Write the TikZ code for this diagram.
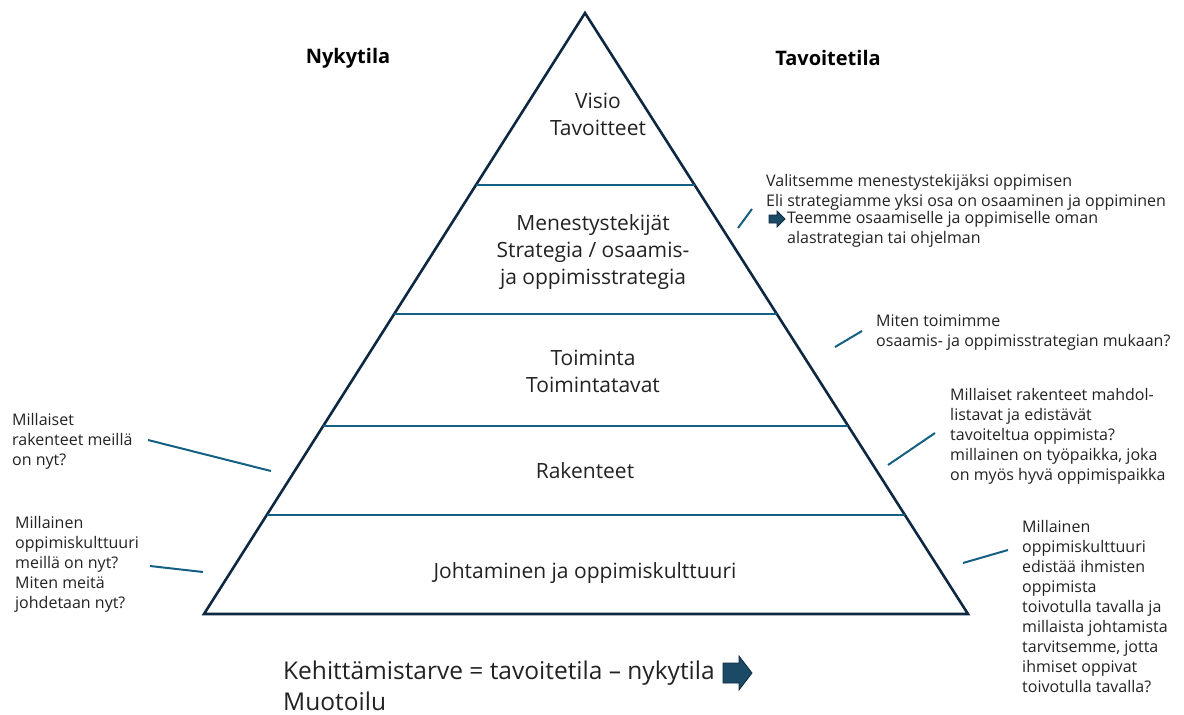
\documentclass[tikz,border=0pt]{standalone}
\usepackage{fontspec}
\setmainfont{Open Sans}
\usetikzlibrary{calc}
\definecolor{outline}{HTML}{0E2841}
\definecolor{accent}{HTML}{156082}
\definecolor{txt}{HTML}{222222}
\definecolor{arrowfill}{HTML}{1B4A66}
\tikzset{
  edge/.style={draw=outline, line width=2.6pt, line join=miter},
  divider/.style={draw=accent, line width=2pt},
  callout/.style={draw=accent, line width=2pt},
  level/.style={text=txt, align=center, inner sep=0pt, font=\fontsize{21}{27}\selectfont},
  side/.style={text=txt, align=left, inner sep=0pt, anchor=north west, font=\fontsize{16}{20}\selectfont},
  head/.style={text=black, inner sep=0pt, font=\fontsize{20}{24}\selectfont\bfseries},
  blockarrow/.style={fill=arrowfill, draw=outline, line width=0.8pt, line join=miter},
}
\begin{document}
\begin{tikzpicture}[x=1pt,y=-1pt]
\useasboundingbox (0,0) rectangle (1184,715);

% pyramid outline
\coordinate (apex) at (585,13);
\coordinate (bl) at (204,614);
\coordinate (br) at (968,614);
\draw[edge] (apex) -- (bl) -- (br) -- cycle;

% level dividers, from edge to edge
\foreach \t/\n in {0.2862/a,0.5008/b,0.6872/c,0.8353/d}{
  \coordinate (L\n) at ($(apex)!\t!(bl)$);
  \coordinate (R\n) at ($(apex)!\t!(br)$);
  \draw[divider] (L\n) -- (R\n);
}

% level labels
\node[level] (visio) at (598,114) {Visio\\Tavoitteet};
\node[level] (menestys) at (593,252) {Menestystekijät\\Strategia / osaamis-\\ja oppimisstrategia};
\node[level] (toiminta) at (593,371) {Toiminta\\Toimintatavat};
\node[level] (rakenteet) at (585,471) {Rakenteet};
\node[level] (johtaminen) at (585,573) {Johtaminen ja oppimiskulttuuri};

% column headings
\node[head] (nyky) at (348,58) {Nykytila};
\node[head] (tavoite) at (828,58) {Tavoitetila};

% current-state questions
\node[side] (q1) at (12,413) {Millaiset\\rakenteet meillä\\on nyt?};
\node[side] (q2) at (15,516) {Millainen\\oppimiskulttuuri\\meillä on nyt?\\Miten meitä\\johdetaan nyt?};

% target-state questions
\node[side] (t1) at (766,174) {Valitsemme menestystekijäksi oppimisen\\Eli strategiamme yksi osa on osaaminen ja oppiminen};
\node[side] (t1b) at (787,211.5) {Teemme osaamiselle ja oppimiselle oman\\alastrategian tai ohjelman};
\node[side] (t2) at (876,315) {Miten toimimme\\osaamis- ja oppimisstrategian mukaan?};
\node[side] (t3) at (950,388) {Millaiset rakenteet mahdol-\\listavat ja edistävät\\tavoiteltua oppimista?\\millainen on työpaikka, joka\\on myös hyvä oppimispaikka};
\node[side] (t4) at (1022,520) {Millainen\\oppimiskulttuuri\\edistää ihmisten\\oppimista\\toivotulla tavalla ja\\millaista johtamista\\tarvitsemme, jotta\\ihmiset oppivat\\toivotulla tavalla?};

% small block arrow before the sub-strategy line
\coordinate (sa) at (769,219);
\draw[blockarrow] ($(sa)+(0,-4)$) -- ++(8,0) -- ++(0,-4) -- ++(8,8) -- ++(-8,8) -- ++(0,-4) -- ++(-8,0) -- cycle;

% callout strokes
\coordinate (c1a) at (148,440); \coordinate (c1b) at (271,471);
\coordinate (c2a) at (150,566); \coordinate (c2b) at (203,572);
\coordinate (c3a) at (738,228); \coordinate (c3b) at (752,209);
\coordinate (c4a) at (835,347); \coordinate (c4b) at (862,331);
\coordinate (c5a) at (888,465); \coordinate (c5b) at (935,433);
\coordinate (c6a) at (963,563); \coordinate (c6b) at (1008,550);
\foreach \p in {1,...,6}{ \draw[callout] (c\p a) -- (c\p b); }

% bottom formula
\node[text=txt, align=left, inner sep=0pt, anchor=north west, font=\fontsize{24.5}{31}\selectfont] (formula) at (283,661) {Kehittämistarve = tavoitetila – nykytila\\Muotoilu};
\coordinate (ba) at (723,673);
\draw[blockarrow] ($(ba)+(0,-10)$) -- ++(16,0) -- ++(0,-7) -- ++(13,17) -- ++(-13,17) -- ++(0,-7) -- ++(-16,0) -- cycle;
\end{tikzpicture}
\end{document}
